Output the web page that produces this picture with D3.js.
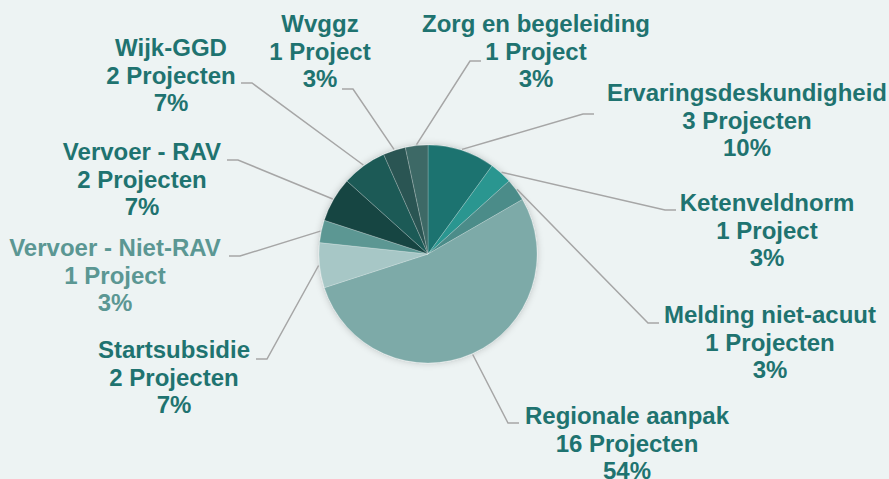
<!DOCTYPE html>
<html>
<head>
<meta charset="utf-8">
<script src="https://cdn.jsdelivr.net/npm/d3@7"></script>
<style>
  html, body { margin: 0; padding: 0; background: #edf3f3; }
  svg { display: block; }
  .lbl { font-family: Arial, "Liberation Sans", Helvetica, sans-serif; font-weight: 700; font-size: 24px; }
</style>
</head>
<body>
<svg id="chart" width="889" height="479"></svg>
<script>
// data, clockwise from 12 o'clock
var categories = ['Ervaringsdeskundigheid', 'Ketenveldnorm', 'Melding niet-acuut', 'Regionale aanpak',
  'Startsubsidie', 'Vervoer - Niet-RAV', 'Vervoer - RAV', 'Wijk-GGD', 'Wvggz', 'Zorg en begeleiding']
var projects = [3, 1, 1, 16, 2, 1, 2, 2, 1, 1]
var countLabels = ['3 Projecten', '1 Project', '1 Projecten', '16 Projecten', '2 Projecten',
  '1 Project', '2 Projecten', '2 Projecten', '1 Project', '1 Project']
var pctLabels = ['10%', '3%', '3%', '54%', '7%', '3%', '7%', '7%', '3%', '3%']

var colors = ['#1f7370', '#2a9690', '#4b8c89', '#7daaa8', '#a7c7c6',
  '#5b9793', '#184442', '#1c5a56', '#2c5553', '#3d6966']

// label layout: elbow of the leader line, stub direction, text centre x and first baseline
var layout = [
  { ex: 583, ey: 114, dir: 1, tx: 747, ty: 101 },
  { ex: 665, ey: 210, dir: 1, tx: 767, ty: 211 },
  { ex: 648, ey: 323, dir: 1, tx: 770, ty: 323 },
  { ex: 508, ey: 423, dir: 1, tx: 627, ty: 424 },
  { ex: 267, ey: 359, dir: -1, tx: 174, ty: 358 },
  { ex: 240, ey: 256, dir: -1, tx: 115, ty: 256 },
  { ex: 238, ey: 160, dir: -1, tx: 142, ty: 160 },
  { ex: 252, ey: 83, dir: -1, tx: 171, ty: 56 },
  { ex: 353, ey: 89, dir: -1, tx: 320, ty: 32 },
  { ex: 470, ey: 61, dir: 1, tx: 536, ty: 32 }
]

var cx = 428, cy = 254, radius = 109
var lineH = 27.5

var svg = d3.select('#chart')

var defs = svg.append('defs')
var shadow = defs.append('filter').attr('id', 'shadow')
  .attr('x', '-20%').attr('y', '-20%').attr('width', '140%').attr('height', '140%')
shadow.append('feDropShadow')
  .attr('dx', 0).attr('dy', 0).attr('stdDeviation', 3.5)
  .attr('flood-color', '#000').attr('flood-opacity', 0.22)

var g = svg.append('g').attr('transform', 'translate(' + cx + ',' + cy + ')')

var pie = d3.pie().sort(null).value(function (d) { return d })
var arcs = pie(projects)

var arc = d3.arc().innerRadius(0).outerRadius(radius)
var edgeArc = d3.arc().innerRadius(radius + 1).outerRadius(radius + 1)

g.append('g').attr('filter', 'url(#shadow)')
  .selectAll('path')
  .data(arcs)
  .enter().append('path')
  .attr('d', arc)
  .attr('fill', function (d, i) { return colors[i] })
  .attr('stroke', '#ffffff')
  .attr('stroke-opacity', 0.35)
  .attr('stroke-width', 0.6)

// leader lines
svg.append('g').selectAll('polyline')
  .data(arcs)
  .enter().append('polyline')
  .attr('fill', 'none')
  .attr('stroke', '#a6a6a6')
  .attr('stroke-width', 1.5)
  .attr('points', function (d, i) {
    var c = edgeArc.centroid(d)
    var L = layout[i]
    return [[cx + c[0], cy + c[1]], [L.ex, L.ey], [L.ex + L.dir * 11, L.ey]].join(' ')
  })

// labels
var labels = svg.append('g').selectAll('text')
  .data(arcs)
  .enter().append('text')
  .attr('class', 'lbl')
  .attr('text-anchor', 'middle')
  .attr('fill', function (d, i) { return i === 5 ? '#5b9793' : '#1f7370' })

labels.each(function (d, i) {
  var t = d3.select(this)
  var L = layout[i]
  var lines = [categories[i], countLabels[i], pctLabels[i]]
  lines.forEach(function (s, k) {
    t.append('tspan').attr('x', L.tx).attr('y', L.ty + k * lineH).text(s)
  })
})
</script>
</body>
</html>
